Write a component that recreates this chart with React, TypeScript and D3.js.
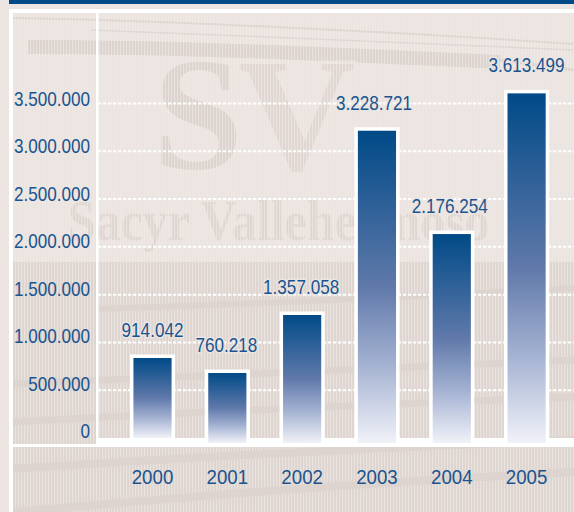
import React from "react";
import * as d3 from "d3";

const years: string[] = ["2000", "2001", "2002", "2003", "2004", "2005"];
// the figures printed above the bars
const printed_values: number[] = [914042, 760218, 1357058, 3228721, 2176254, 3613499];
// how high the bars are really drawn in the picture (they dont quite follow the printed figures)
const drawn_values: number[] = [837000, 680000, 1287000, 3215000, 2134000, 3606000];
const y_ticks: number[] = [0, 500000, 1000000, 1500000, 2000000, 2500000, 3000000, 3500000];

const W = 574;
const H = 512;
const BLUE = "#004a87";
const TEXT_BLUE = "#1a5490";
const PAPER = "#ebe4e0";
const SHADE = "#dbd2cd";

const es = d3.formatLocale({ decimal: ",", thousands: ".", grouping: [3], currency: ["", " €"] });
const fmt = es.format(",d");

// upper textured bands, decoration only
const top_bands: [string, number][] = [
    ["M13,18 C150,20 400,32 574,44", 2],
    ["M90,30 C250,36 430,44 574,50", 1.5],
    ["M28,47 C180,47 330,54 500,62", 14],
    ["M500,60 L574,70", 3],
];
const low_bands: [string, number][] = [
    ["M13,384 C120,380 230,376 574,360", 7],
    ["M13,422 C120,416 230,410 574,397", 7],
    ["M98,309 C250,304 400,298 574,288", 6],
    ["M13,469 C120,462 230,454 574,440", 8],
    ["M13,512 C120,503 300,486 574,472", 8],
];

/** Condensed text: the narrow face of the original is not installed, so squeeze Liberation Sans */
function Narrow(props: { x: number, y: number, anchor: "end" | "middle", squeeze?: number, halo?: boolean, children: string }) {
    const { x, y, anchor, squeeze = 0.815, halo, children } = props;
    return <text
        transform={`translate(${x},${y}) scale(${squeeze},1)`}
        textAnchor={anchor}
        stroke={halo ? PAPER : undefined}
        strokeWidth={halo ? 3 : undefined}
        paintOrder="stroke"
    >{children}</text>;
}

export default function App() {
    const y0 = 438;
    const y = d3.scaleLinear().domain([0, 3500000]).range([y0, 103.5]);
    const y_label = d3.scaleLinear().domain([0, 3500000]).range([y0, 106]);
    const x = d3.scaleBand<string>().domain(years).range([115.1, 564]).paddingInner(0.49).paddingOuter(0.245);
    const bar_w = x.bandwidth();
    const label_nudge = [0, -1, -1, -3, -2, 0];

    return (
        <svg width={W} height={H} viewBox={`0 0 ${W} ${H}`}
            style={{ position: "absolute", left: 0, top: 0, display: "block" }}>
            <defs>
                <linearGradient id="bar_fill" x1="0" y1="0" x2="0" y2="1">
                    <stop offset="0" stopColor={BLUE} />
                    <stop offset="0.5" stopColor="#6079aa" />
                    <stop offset="0.75" stopColor="#a4b2d2" />
                    <stop offset="1" stopColor="#f1f2f8" />
                </linearGradient>
                <pattern id="stripes" width="3" height="6" patternUnits="userSpaceOnUse">
                    <rect width="1.2" height="6" fill="#f0eae7" opacity="0.85" />
                </pattern>
                <clipPath id="plate"><rect x="13" y="13" width={W - 13} height={H - 13} /></clipPath>
            </defs>

            {/* page and header strip */}
            <rect width={W} height={H} fill="#ece5e1" />
            <rect x="9" y="0" width={W - 9} height="4" fill={BLUE} />
            <rect x="9" y="9" width={W - 9} height={H - 9} fill="#fff" />

            {/* watermark background */}
            <g clipPath="url(#plate)">
                <rect x="13" y="13" width={W - 13} height={H - 13} fill={PAPER} />
                <rect x="13" y="262" width={W - 13} height={H - 262} fill="#ddd4cf" />
                {top_bands.map(([d, sw], i) =>
                    <path key={i} d={d} fill="none" stroke={SHADE} strokeWidth={sw} />)}
                <g fontFamily="'Liberation Serif', serif" fontWeight="700" fontSize="162" fill={SHADE}
                    stroke={PAPER} strokeWidth="7" paintOrder="stroke">
                    <text x="153" y="168">S</text>
                    <text x="238" y="170" opacity="0.75">V</text>
                </g>
                <text transform="translate(68,240) scale(0.86,1)" fontFamily="'Liberation Serif', serif"
                    fontWeight="700" fontSize="58" fill="#ded5d0" stroke={PAPER} strokeWidth="4" paintOrder="stroke">
                    Sacyr Vallehermoso
                </text>
                <rect x="13" y="13" width={W - 13} height={H - 13} fill="url(#stripes)" opacity="0.75" />
                {low_bands.map(([d, sw], i) =>
                    <path key={i} d={d} fill="none" stroke="#ddd4cf" strokeWidth={sw} />)}
            </g>

            {/* grid */}
            {y_ticks.filter(t => t > 0).map(t =>
                <line key={t} x1="98" x2={W} y1={y(t)} y2={y(t)}
                    stroke="#fff" strokeWidth="2" strokeDasharray="3.3 1.7" />)}

            {/* axes, white */}
            <rect x="98" y={y0} width={W - 98} height="9" fill="#fff" />
            <rect x="13" y="444" width={W - 13} height="3" fill="#fff" />
            <rect x="96" y="13" width="2.5" height="434" fill="#fff" />

            {/* bars */}
            {years.map((yr, i) => {
                const top = y(drawn_values[i]!);
                const bottom = i == 0 ? y0 : y0 + 5;
                return <g key={yr}>
                    <rect x={x(yr)! - 3.5} y={top - 3.5} width={bar_w + 7} height={bottom - top + 3.5} fill="#fff" />
                    <rect x={x(yr)!} y={top} width={bar_w} height={bottom - top} fill="url(#bar_fill)" />
                </g>;
            })}

            <g fontFamily="'Liberation Sans', sans-serif" fontSize="21" fill={TEXT_BLUE}>
                {y_ticks.map(t =>
                    <Narrow key={t} x={90} y={y_label(t)} anchor="end">{fmt(t)}</Narrow>)}
                {years.map(yr =>
                    <Narrow key={yr} x={x(yr)! + bar_w / 2} y={484} anchor="middle" squeeze={0.89}>{yr}</Narrow>)}
                {years.map((yr, i) =>
                    <Narrow key={yr} x={x(yr)! + bar_w / 2 + label_nudge[i]!} y={y(drawn_values[i]!) - 21}
                        anchor="middle" halo>{fmt(printed_values[i]!)}</Narrow>)}
            </g>
        </svg>
    );
}
